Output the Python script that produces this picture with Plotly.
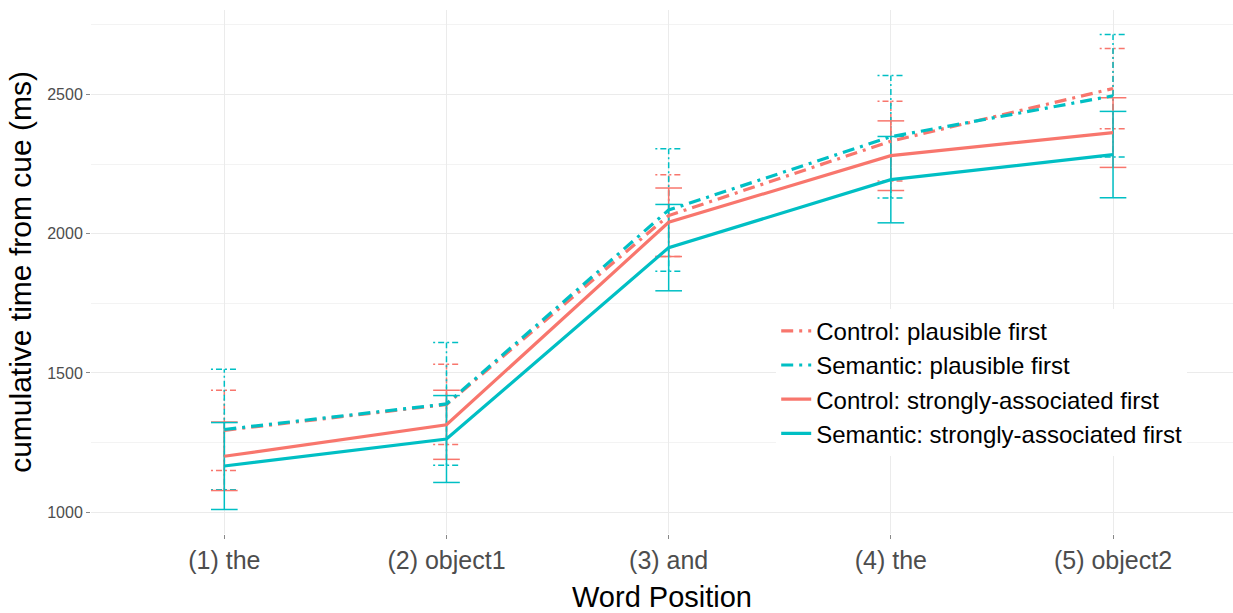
import plotly.graph_objects as go

positions = ["(1) the", "(2) object1", "(3) and", "(4) the", "(5) object2"]

series_names = [
    "Control: plausible first",
    "Semantic: plausible first",
    "Control: strongly-associated first",
    "Semantic: strongly-associated first",
]

ctrl_plaus_mean = [1294, 1387, 2065, 2332, 2521]
ctrl_plaus_se = [144, 144, 147, 143, 144]
sem_plaus_mean = [1297, 1389, 2085, 2348, 2495]
sem_plaus_se = [216, 220, 220, 220, 220]
ctrl_strong_mean = [1201, 1314, 2041, 2280, 2363]
ctrl_strong_se = [123, 124, 123, 125, 125]
sem_strong_mean = [1166, 1263, 1950, 2194, 2284]
sem_strong_se = [156, 156, 155, 155, 155]

RED = "#F8766D"
TEAL = "#00BFC4"

means = [ctrl_plaus_mean, sem_plaus_mean, ctrl_strong_mean, sem_strong_mean]
ses = [ctrl_plaus_se, sem_plaus_se, ctrl_strong_se, sem_strong_se]
colors = [RED, TEAL, RED, TEAL]
dashes = ["12px,6px,3px,6px", "12px,6px,3px,6px", "solid", "solid"]
bar_dashes = ["2px,3px,6px,3px", "2px,3px,6px,3px", "solid", "solid"]

xs = list(range(len(positions)))
cap = 0.06

fig = go.Figure()

# error bars drawn as line segments (so the plausible ones can be dash-dotted)
for m, s, c, bd in zip(means, ses, colors, bar_dashes):
    ex, ey = [], []
    for xi, mi, si in zip(xs, m, s):
        lo, hi = mi - si, mi + si
        ex += [xi, xi, None, xi - cap, xi + cap, None, xi - cap, xi + cap, None]
        ey += [lo, hi, None, hi, hi, None, lo, lo, None]
    fig.add_trace(go.Scatter(x=ex, y=ey, mode="lines", showlegend=False,
                             hoverinfo="skip",
                             line=dict(color=c, width=1.5, dash=bd)))

for name, m, c, d in zip(series_names, means, colors, dashes):
    fig.add_trace(go.Scatter(x=xs, y=m, mode="lines", name=name,
                             line=dict(color=c, width=3.2, dash=d)))

fig.update_layout(
    width=1233, height=613,
    margin=dict(l=91, r=0, t=10, b=79),
    paper_bgcolor="white", plot_bgcolor="white",
    font=dict(family="Liberation Sans, Arial, sans-serif", color="#000000"),
    legend=dict(x=0.6, y=0.43, xanchor="left", yanchor="top",
                bgcolor="white", font=dict(size=24, color="#000000"),
                tracegroupgap=0, itemwidth=30),
    xaxis=dict(
        range=[-0.6, 4.54], tickmode="array", tickvals=xs, ticktext=positions,
        showgrid=True, gridcolor="#EBEBEB", gridwidth=1, zeroline=False,
        ticks="outside", ticklen=4, tickcolor="#888888",
        tickfont=dict(size=25, color="#4D4D4D"),
        title=dict(text="Word Position", font=dict(size=29, color="#000000"),
                   standoff=16),
    ),
    yaxis=dict(
        range=[922, 2803], tickvals=[1000, 1500, 2000, 2500],
        showgrid=True, gridcolor="#EBEBEB", gridwidth=1, zeroline=False,
        minor=dict(tickvals=[1250, 1750, 2250, 2750], showgrid=True,
                   gridcolor="#F3F3F3", gridwidth=0.6),
        ticks="outside", ticklen=4, tickcolor="#888888",
        tickfont=dict(size=16, color="#4D4D4D"),
        title=dict(text="cumulative time from cue (ms)",
                   font=dict(size=30, color="#000000"), standoff=6),
    ),
)

fig.write_html("out.html")
